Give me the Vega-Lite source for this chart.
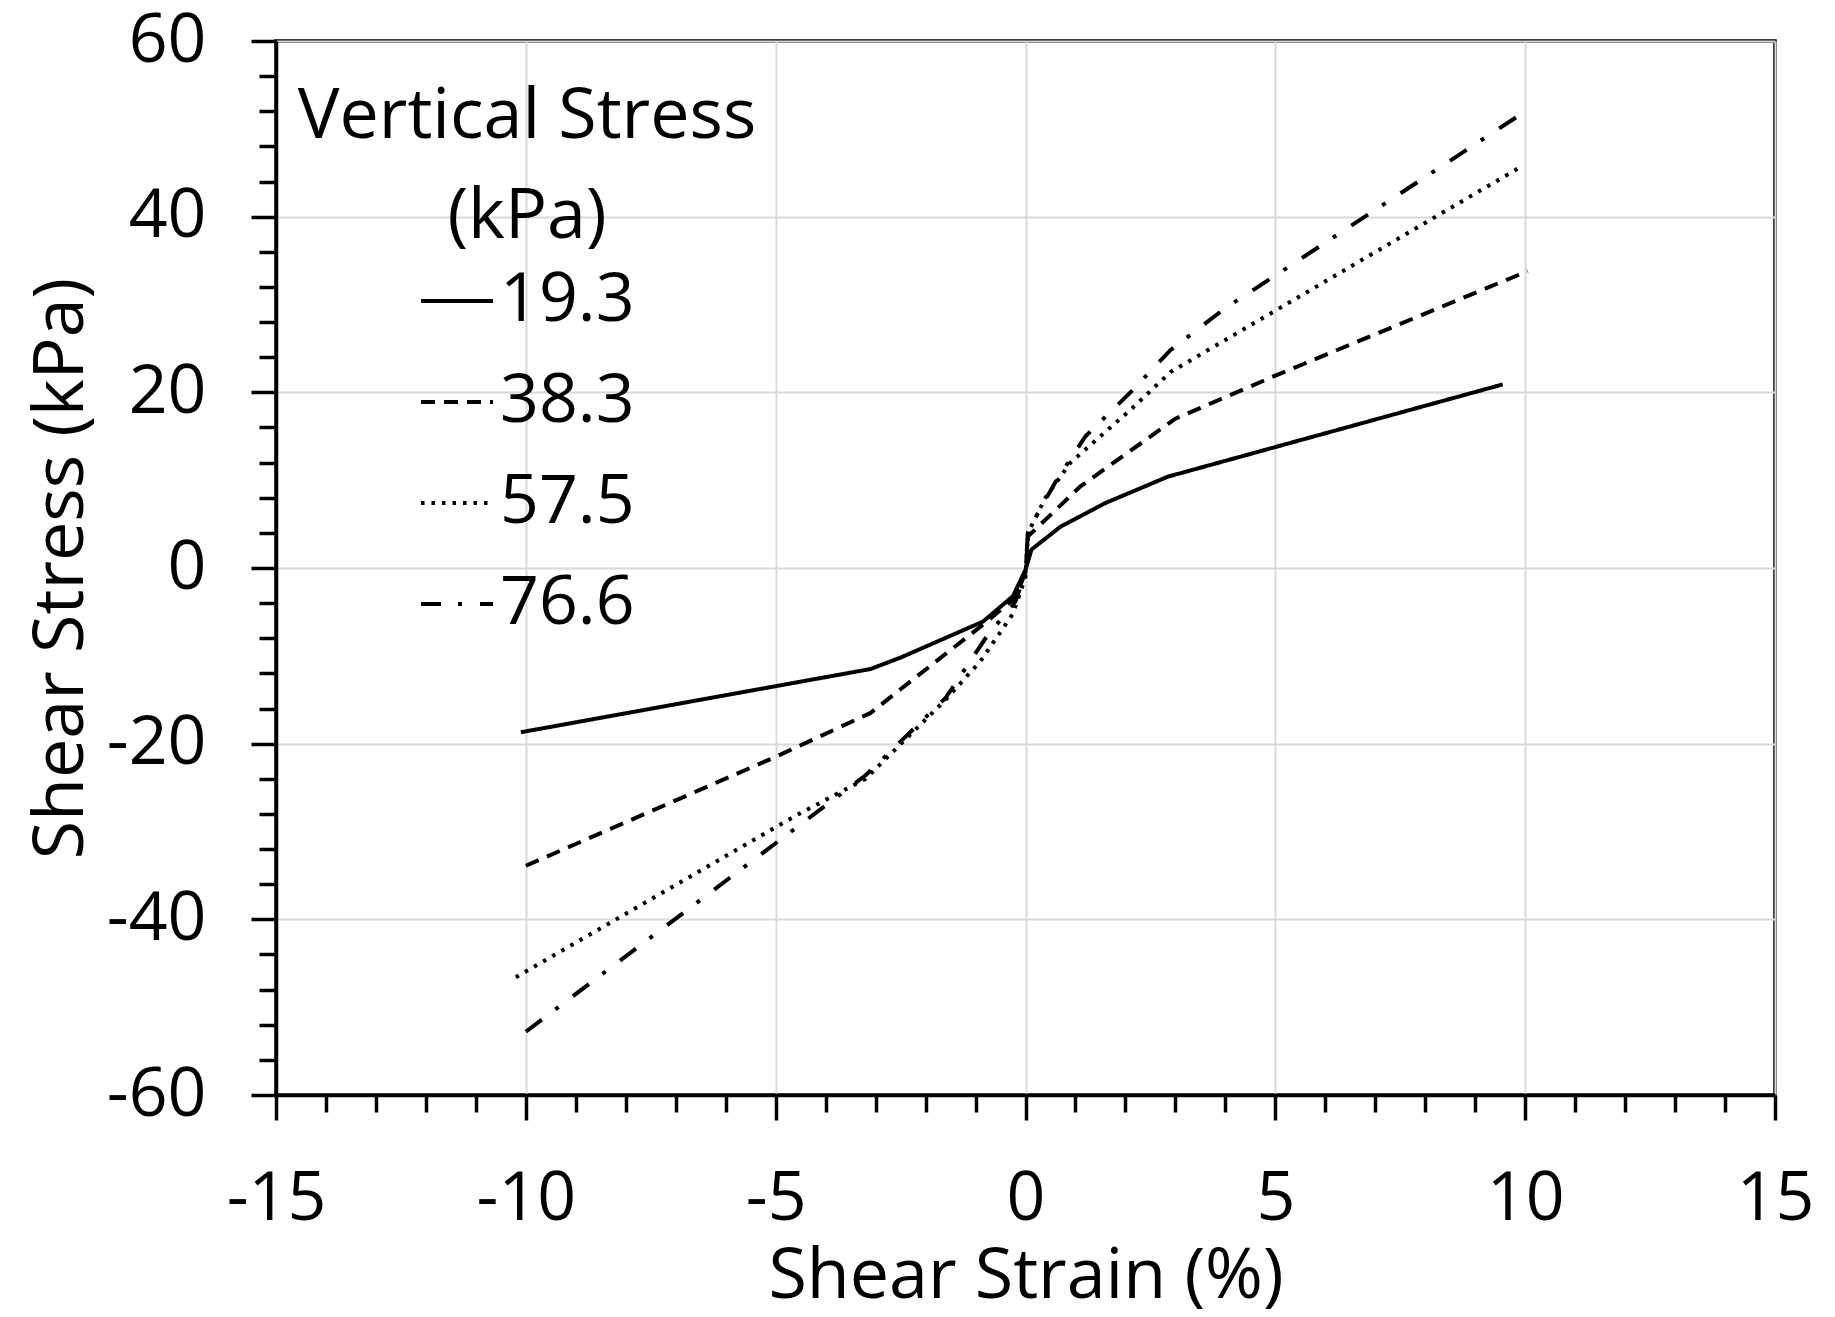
{
  "$schema": "https://vega.github.io/schema/vega-lite/v6.json",
  "width": 1499,
  "height": 1054,
  "autosize": {"type": "none"},
  "padding": {"left": 276, "top": 41, "right": 60, "bottom": 222},
  "background": "white",
  "config": {
    "view": {"stroke": "black", "strokeWidth": 3.5},
    "font": "Open Sans"
  },
  "data": {
    "values": [
      {"strain": -10.1, "shear": -18.7, "stress": "19.3"},
      {"strain": -3.1, "shear": -11.5, "stress": "19.3"},
      {"strain": -2.5, "shear": -10.2, "stress": "19.3"},
      {"strain": -0.85, "shear": -6.1, "stress": "19.3"},
      {"strain": -0.25, "shear": -3.2, "stress": "19.3"},
      {"strain": 0.0, "shear": -0.2, "stress": "19.3"},
      {"strain": 0.12, "shear": 2.1, "stress": "19.3"},
      {"strain": 0.7, "shear": 4.7, "stress": "19.3"},
      {"strain": 1.6, "shear": 7.4, "stress": "19.3"},
      {"strain": 2.85, "shear": 10.4, "stress": "19.3"},
      {"strain": 9.55, "shear": 20.9, "stress": "19.3"},

      {"strain": -10.0, "shear": -33.9, "stress": "38.3"},
      {"strain": -5.0, "shear": -21.5, "stress": "38.3"},
      {"strain": -3.1, "shear": -16.5, "stress": "38.3"},
      {"strain": -2.5, "shear": -13.8, "stress": "38.3"},
      {"strain": -0.75, "shear": -6.0, "stress": "38.3"},
      {"strain": -0.2, "shear": -3.3, "stress": "38.3"},
      {"strain": 0.0, "shear": -0.5, "stress": "38.3"},
      {"strain": 0.05, "shear": 3.6, "stress": "38.3"},
      {"strain": 1.1, "shear": 9.3, "stress": "38.3"},
      {"strain": 3.0, "shear": 17.0, "stress": "38.3"},
      {"strain": 5.0, "shear": 21.9, "stress": "38.3"},
      {"strain": 10.05, "shear": 33.8, "stress": "38.3"},

      {"strain": -10.2, "shear": -46.6, "stress": "57.5"},
      {"strain": -4.6, "shear": -28.2, "stress": "57.5"},
      {"strain": -3.2, "shear": -24.0, "stress": "57.5"},
      {"strain": -1.6, "shear": -15.0, "stress": "57.5"},
      {"strain": -0.9, "shear": -10.6, "stress": "57.5"},
      {"strain": -0.25, "shear": -5.2, "stress": "57.5"},
      {"strain": 0.0, "shear": -1.0, "stress": "57.5"},
      {"strain": 0.05, "shear": 4.0, "stress": "57.5"},
      {"strain": 0.4, "shear": 8.0, "stress": "57.5"},
      {"strain": 0.9, "shear": 12.0, "stress": "57.5"},
      {"strain": 2.1, "shear": 18.0, "stress": "57.5"},
      {"strain": 2.9, "shear": 22.3, "stress": "57.5"},
      {"strain": 5.45, "shear": 30.8, "stress": "57.5"},
      {"strain": 9.86, "shear": 45.5, "stress": "57.5"},

      {"strain": -10.0, "shear": -52.8, "stress": "76.6"},
      {"strain": -3.2, "shear": -23.6, "stress": "76.6"},
      {"strain": -1.6, "shear": -14.8, "stress": "76.6"},
      {"strain": -0.8, "shear": -8.0, "stress": "76.6"},
      {"strain": -0.2, "shear": -3.8, "stress": "76.6"},
      {"strain": 0.0, "shear": -0.5, "stress": "76.6"},
      {"strain": 0.05, "shear": 4.2, "stress": "76.6"},
      {"strain": 0.6, "shear": 9.8, "stress": "76.6"},
      {"strain": 1.2, "shear": 15.0, "stress": "76.6"},
      {"strain": 2.1, "shear": 20.0, "stress": "76.6"},
      {"strain": 2.9, "shear": 24.8, "stress": "76.6"},
      {"strain": 4.0, "shear": 29.6, "stress": "76.6"},
      {"strain": 5.0, "shear": 33.3, "stress": "76.6"},
      {"strain": 9.95, "shear": 51.8, "stress": "76.6"}
    ]
  },
  "layer": [
    {
      "mark": {"type": "line", "color": "black", "strokeWidth": 4, "strokeCap": "butt"},
      "encoding": {
        "x": {
          "field": "strain", "type": "quantitative",
          "scale": {"domain": [-15, 15], "nice": false, "zero": false},
          "axis": {
            "values": [-15, -10, -5, 0, 5, 10, 15],
            "labelExpr": "datum.value < 0 ? '-' + abs(datum.value) : '' + datum.value",
            "tickSize": 25, "tickWidth": 3.5, "tickColor": "black",
            "domainColor": "black", "domainWidth": 3.5,
            "grid": true, "gridColor": "#d9d9d9", "gridWidth": 2,
            "labelFont": "Open Sans", "labelFontSize": 68, "labelColor": "black",
            "labelPadding": 45, "labelFlush": false, "labelOverlap": false,
            "title": "Shear Strain (%)", "titleFont": "Open Sans", "titleFontSize": 70,
            "titleFontWeight": "normal", "titleColor": "black",
            "titleBaseline": "alphabetic", "titleY": 202, "titleX": 749.5
          }
        },
        "y": {
          "field": "shear", "type": "quantitative",
          "scale": {"domain": [-60, 60], "nice": false, "zero": false},
          "axis": {
            "values": [-60, -40, -20, 0, 20, 40, 60],
            "labelExpr": "datum.value < 0 ? '-' + abs(datum.value) : '' + datum.value",
            "tickSize": 25, "tickWidth": 3.5, "tickColor": "black",
            "domainColor": "black", "domainWidth": 3.5,
            "grid": true, "gridColor": "#d9d9d9", "gridWidth": 2,
            "labelFont": "Open Sans", "labelFontSize": 68, "labelColor": "black",
            "labelPadding": 45, "labelFlush": false, "labelOverlap": false,
            "title": "Shear Stress (kPa)", "titleFont": "Open Sans", "titleFontSize": 70,
            "titleFontWeight": "normal", "titleColor": "black",
            "titleBaseline": "alphabetic", "titleX": -194, "titleY": 527, "titleAngle": -90
          }
        },
        "strokeDash": {
          "field": "stress", "type": "nominal",
          "scale": {
            "domain": ["19.3", "38.3", "57.5", "76.6"],
            "range": [[1, 0], [14, 9], [3.5, 7], [20, 17, 4, 18]]
          },
          "legend": {
            "orient": "none", "legendX": 22, "legendY": 42,
            "padding": 0,
            "title": ["Vertical Stress", "(kPa)"],
            "titleFont": "Open Sans", "titleFontSize": 70, "titleFontWeight": "normal",
            "titleColor": "black", "titleLineHeight": 100, "titleLimit": 2000,
            "titleAnchor": "middle", "titleAlign": "center", "titlePadding": 10,
            "labelFont": "Open Sans", "labelFontSize": 68, "labelColor": "black", "labelOffset": 5,
            "symbolType": "stroke", "symbolSize": 5184, "symbolStrokeWidth": 4,
            "symbolStrokeColor": "black", "symbolOffset": 0,
            "rowPadding": 29
          }
        }
      }
    },
    {
      "mark": {"type": "point", "opacity": 0},
      "encoding": {
        "x": {
          "field": "strain", "type": "quantitative",
          "axis": {
            "orient": "bottom",
            "values": [-14, -13, -12, -11, -9, -8, -7, -6, -4, -3, -2, -1, 1, 2, 3, 4, 6, 7, 8, 9, 11, 12, 13, 14],
            "tickSize": 17, "tickWidth": 3.5, "tickColor": "black",
            "labels": false, "domain": false, "grid": false, "title": null
          }
        },
        "y": {
          "field": "shear", "type": "quantitative",
          "axis": {
            "orient": "left",
            "values": [-56, -52, -48, -44, -36, -32, -28, -24, -16, -12, -8, -4, 4, 8, 12, 16, 24, 28, 32, 36, 44, 48, 52, 56],
            "tickSize": 17, "tickWidth": 3.5, "tickColor": "black",
            "labels": false, "domain": false, "grid": false, "title": null
          }
        }
      }
    }
  ],
  "resolve": {"axis": {"x": "independent", "y": "independent"}}
}
